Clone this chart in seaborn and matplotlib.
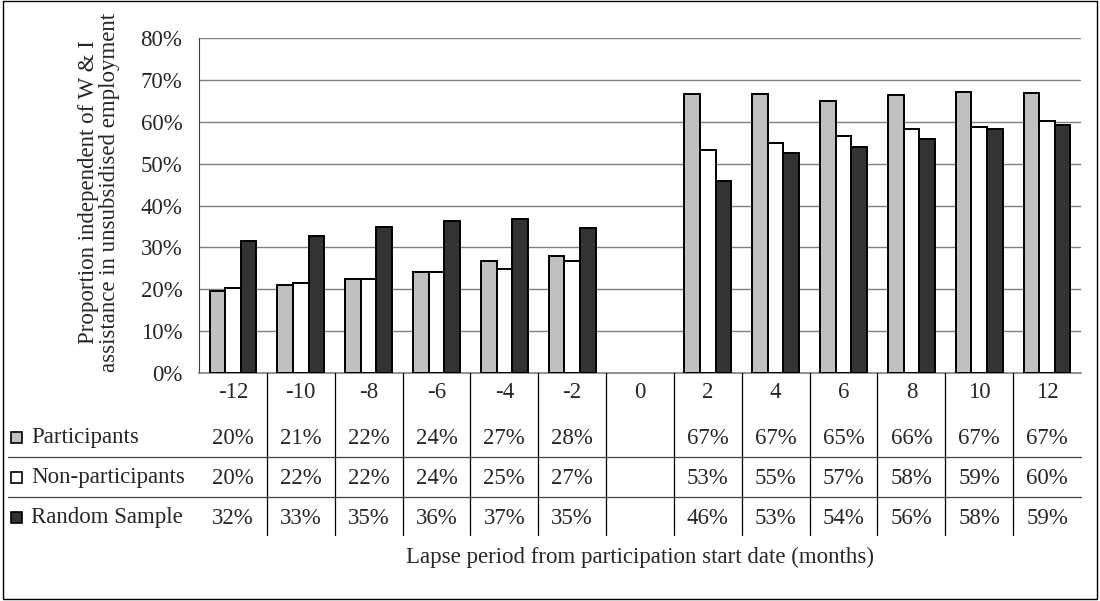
import numpy as np
import pandas as pd
import matplotlib.pyplot as plt
import seaborn as sns
from matplotlib.patches import Rectangle
from matplotlib.lines import Line2D
from matplotlib.ticker import PercentFormatter
from matplotlib.transforms import blended_transform_factory

# 자료 (그림에서 읽은 값, %)
months = ['-12', '-10', '-8', '-6', '-4', '-2', '0', '2', '4', '6', '8', '10', '12']
participants = [19.6, 20.9, 22.4, 24.2, 26.7, 28.0, np.nan, 66.6, 66.6, 65.0, 66.3, 67.2, 66.8]
non_participants = [20.4, 21.6, 22.4, 24.2, 24.8, 26.7, np.nan, 53.3, 54.9, 56.7, 58.2, 58.7, 60.1]
random_sample = [31.6, 32.6, 34.8, 36.2, 36.7, 34.6, np.nan, 45.8, 52.6, 54.0, 55.9, 58.2, 59.3]

series = ['Participants', 'Non-participants', 'Random Sample']
colors = {'Participants': '#C0C0C0', 'Non-participants': '#FFFFFF', 'Random Sample': '#333333'}

df = pd.DataFrame({'month': months,
                   'Participants': participants,
                   'Non-participants': non_participants,
                   'Random Sample': random_sample})
long = df.melt(id_vars='month', var_name='group', value_name='value')
long['value'] = long['value'] / 100

sns.set_style('white')
plt.rcParams['font.family'] = ['Liberation Serif', 'DejaVu Serif']
fs = 16.5

W, H = 1100, 601
fig = plt.figure(figsize=(11, 6.01), dpi=100)

def fx(px):
    return px / W

def fy(px):
    return 1 - px / H

ax = fig.add_axes([fx(199), fy(373), fx(1081) - fx(199), fy(38) - fy(373)])

sns.barplot(data=long, x='month', y='value', hue='group', order=months, hue_order=series,
            palette=colors, width=0.69, edgecolor='black', linewidth=1.4,
            errorbar=None, legend=False, ax=ax, zorder=3)

ax.set_ylim(0, 0.8)
ax.set_xlim(-0.5, len(months) - 0.5)
ax.set_yticks(np.arange(0, 0.81, 0.1))
ax.yaxis.set_major_formatter(PercentFormatter(1.0, decimals=0))
ax.grid(axis='y', color='#808080', linewidth=1, zorder=0)
ax.set_axisbelow(True)
ax.tick_params(axis='y', labelsize=fs, length=5, color='#404040', pad=7)
ax.tick_params(axis='x', bottom=False, labelbottom=False)
ax.set_xlabel('')
ax.set_ylabel('')
for s in ['top', 'right']:
    ax.spines[s].set_visible(False)
ax.spines['left'].set_color('#404040')
ax.spines['bottom'].set_color('#808080')
ax.spines['bottom'].set_linewidth(1.2)

# y축 제목
fig.text(fx(99), fy(192), 'Proportion independent of W & I\nassistance in unsubsidised employment',
         rotation=90, ha='center', va='center', fontsize=fs, linespacing=1.0)

# 데이터 표
tr = blended_transform_factory(ax.transData, fig.transFigure)
row_y = [438, 478, 518]
for i, m in enumerate(months):
    ax.text(i, fy(392), m, transform=tr, ha='center', va='center', fontsize=fs, clip_on=False)
    for r, name in enumerate(series):
        v = df[name][i]
        if not np.isnan(v):
            ax.text(i, fy(row_y[r]), f'{int(v + 0.5)}%', transform=tr, ha='center', va='center',
                    fontsize=fs, clip_on=False)

for i in range(len(months) - 1):
    fig.add_artist(Line2D([i + 0.5, i + 0.5], [fy(373), fy(535)], transform=tr,
                          color='black', linewidth=0.9))
for yy in [457, 497]:
    fig.add_artist(Line2D([fx(8), fx(1081)], [fy(yy), fy(yy)], color='#404040', linewidth=0.9))

for r, name in enumerate(series):
    fig.add_artist(Rectangle((fx(11), fy(row_y[r] + 5)), fx(11), fy(0) - fy(11),
                             facecolor=colors[name], edgecolor='black', linewidth=1.2))
    fig.text(fx(31), fy(row_y[r]), name, ha='left', va='center', fontsize=fs)

fig.text(0.5 * (fx(199) + fx(1081)), fy(557), 'Lapse period from participation start date (months)',
         ha='center', va='center', fontsize=fs)

# 바깥 테두리
fig.add_artist(Rectangle((fx(3), fy(599)), fx(1097) - fx(3), fy(1) - fy(599),
                         facecolor='none', edgecolor='black', linewidth=1))

plt.savefig('out.png', dpi=100)
